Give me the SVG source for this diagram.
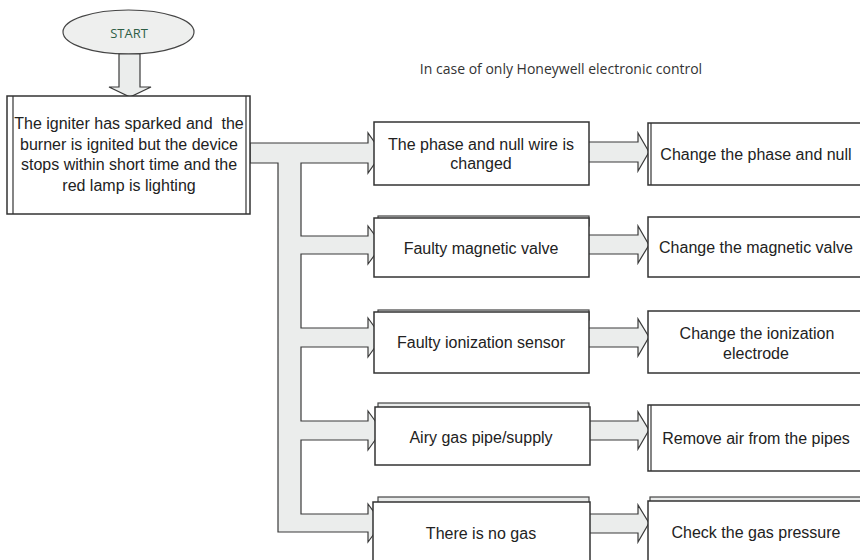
<svg xmlns="http://www.w3.org/2000/svg" width="860" height="560" viewBox="0 0 860 560">
<style>
.bx{fill:#fff;stroke:#333;stroke-width:1.5}
.bk{fill:#e9ebea;stroke:#444;stroke-width:1.2}
.ln{stroke:#333;stroke-width:1.2;fill:none}
.ar{fill:#ebedec;stroke:#3a3a3a;stroke-width:1.2;stroke-linejoin:miter}
.t{font-family:"Liberation Sans",Arial,sans-serif;font-size:16px;fill:#222;text-anchor:middle}
.s{font-family:"Open Sans","Noto Sans",sans-serif;text-anchor:middle}
</style>
<rect width="860" height="560" fill="#fff"/>

<g id="start">
<ellipse cx="128.5" cy="32" rx="65.5" ry="22" fill="#eeefee" stroke="#444" stroke-width="1.2"/>
<text class="s" x="129" y="38" font-size="13" fill="#2e5e46">START</text>
</g>

<g id="note">
<text class="s" x="561" y="74" font-size="14" fill="#333">In case of only Honeywell electronic control</text>
</g>

<g id="connectors">
<polygon class="ar" points="119,54 140,54 140,87 151,87 130,97 109,87 119,87"/>
<polygon class="ar" points="250,143 368,143 368,133 382,153 368,173 368,163 301,163 301,236 368,236 368,226 382,245 368,264 368,254 301,254 301,328 368,328 368,318 382,337.5 368,357 368,347 301,347 301,421 368,421 368,411 382,430.5 368,450 368,440 301,440 301,514 368,514 368,504 382,523 368,542 368,532 278,532 278,163 250,163"/>
<polygon class="ar" points="588,142 638,142 638,133 649,152 638,171 638,162 588,162"/>
<polygon class="ar" points="588,235 638,235 638,226 649,245 638,263 638,254 588,254"/>
<polygon class="ar" points="588,328 638,328 638,319 649,337 638,356 638,347 588,347"/>
<polygon class="ar" points="588,421 638,421 638,412 649,430 638,449 638,440 588,440"/>
<polygon class="ar" points="588,514 638,514 638,505 649,523 638,542 638,533 588,533"/>
</g>

<g id="main">
<rect class="bx" x="7" y="96" width="243" height="118"/>
<line class="ln" x1="13" y1="96" x2="13" y2="214"/>
<line class="ln" x1="246" y1="96" x2="246" y2="214"/>
<text class="t" x="129" y="129" style="white-space:pre">The igniter has sparked and  the</text>
<text class="t" x="129" y="150">burner is ignited but the device</text>
<text class="t" x="129" y="170">stops within short time and the</text>
<text class="t" x="129" y="191">red lamp is lighting</text>
</g>

<g id="b1">
<rect class="bx" x="374" y="122" width="215" height="63"/>
<text class="t" x="481" y="150">The phase and null wire is</text>
<text class="t" x="481" y="169">changed</text>
</g>
<g id="b2">
<rect class="bk" x="378" y="216" width="211" height="10"/>
<rect class="bx" x="374" y="218" width="215" height="59"/>
<text class="t" x="481" y="254">Faulty magnetic valve</text>
</g>
<g id="b3">
<rect class="bk" x="378" y="310" width="211" height="10"/>
<rect class="bx" x="374" y="312" width="215" height="61"/>
<text class="t" x="481" y="348">Faulty ionization sensor</text>
</g>
<g id="b4">
<rect class="bk" x="378" y="403" width="211" height="10"/>
<rect class="bx" x="375" y="407" width="215" height="58"/>
<text class="t" x="481" y="443">Airy gas pipe/supply</text>
</g>
<g id="b5">
<rect class="bk" x="378" y="497" width="211" height="10"/>
<rect class="bx" x="373" y="502" width="217" height="70"/>
<text class="t" x="481" y="539">There is no gas</text>
</g>

<g id="r1">
<rect class="bx" x="648" y="123" width="222" height="62"/>
<line class="ln" x1="651" y1="123" x2="651" y2="185"/>
<text class="t" x="756" y="160">Change the phase and null</text>
</g>
<g id="r2">
<rect class="bx" x="648" y="217" width="222" height="60"/>
<text class="t" x="756" y="253">Change the magnetic valve</text>
</g>
<g id="r3">
<rect class="bx" x="648" y="311" width="222" height="62"/>
<text class="t" x="757" y="339">Change the ionization</text>
<text class="t" x="756" y="359">electrode</text>
</g>
<g id="r4">
<rect class="bx" x="648" y="405" width="222" height="66"/>
<line class="ln" x1="651" y1="405" x2="651" y2="471"/>
<text class="t" x="756" y="444">Remove air from the pipes</text>
</g>
<g id="r5">
<rect class="bk" x="650" y="497" width="220" height="10"/>
<rect class="bx" x="648" y="501" width="222" height="70"/>
<text class="t" x="756" y="538">Check the gas pressure</text>
</g>
</svg>
